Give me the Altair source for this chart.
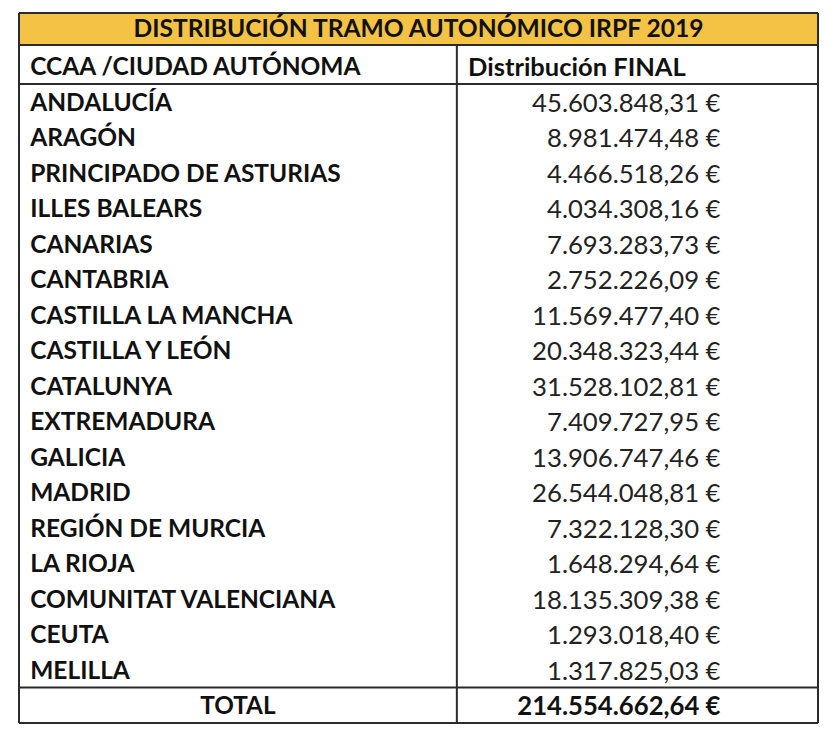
import altair as alt
import pandas as pd

# ---------------- data ----------------
title = "DISTRIBUCIÓN TRAMO AUTONÓMICO IRPF 2019"
col_headers = ["CCAA /CIUDAD AUTÓNOMA", "Distribución FINAL"]
regions = [
    "ANDALUCÍA", "ARAGÓN", "PRINCIPADO DE ASTURIAS", "ILLES BALEARS", "CANARIAS",
    "CANTABRIA", "CASTILLA LA MANCHA", "CASTILLA Y LEÓN", "CATALUNYA", "EXTREMADURA",
    "GALICIA", "MADRID", "REGIÓN DE MURCIA", "LA RIOJA", "COMUNITAT VALENCIANA",
    "CEUTA", "MELILLA",
]
amounts = [
    45603848.31, 8981474.48, 4466518.26, 4034308.16, 7693283.73,
    2752226.09, 11569477.40, 20348323.44, 31528102.81, 7409727.95,
    13906747.46, 26544048.81, 7322128.30, 1648294.64, 18135309.38,
    1293018.40, 1317825.03,
]
total_label = "TOTAL"
total_amount = 214554662.64


def fmt(v):
    s = f"{v:,.2f}".replace(",", "X").replace(".", ",").replace("X", ".")
    return s + " €"


# ---------------- layout ----------------
FONT = "Lato"
N_SLOTS = len(regions) + 3          # title, header, rows, total
W, H = 799, 710
DIV = 0.548                          # column divider (fraction of width)
LEFT_PAD = 0.014
RIGHT_TEXT = 0.878
TITLE_BOTTOM = 0.9
LINE = "#2b2b2b"
YELLOW = "#F4C244"

xs = alt.Scale(domain=[0, 1])
ys = alt.Scale(domain=[0, N_SLOTS], reverse=True)


def X(f="x"):
    return alt.X(f"{f}:Q", scale=xs, axis=None)


def Y(f="y"):
    return alt.Y(f"{f}:Q", scale=ys, axis=None)


def txt(df, size, weight="bold", align="left", color="#111", field="t", x="x", dy=2):
    return alt.Chart(df).mark_text(
        font=FONT, fontSize=size, fontWeight=weight, color=color, align=align,
        baseline="middle", dy=dy
    ).encode(x=X(x), y=Y(), text=f"{field}:N")


band = alt.Chart(pd.DataFrame({"x": [0], "x2": [1], "y": [0], "y2": [TITLE_BOTTOM]})).mark_rect(
    color=YELLOW
).encode(x=X(), x2="x2:Q", y=Y(), y2="y2:Q")

h_edges = [0, TITLE_BOTTOM, 2, N_SLOTS - 1, N_SLOTS]
hrules = alt.Chart(pd.DataFrame({"y": h_edges, "x": [0] * 5, "x2": [1] * 5})).mark_rule(
    color=LINE, strokeWidth=2
).encode(x=X(), x2="x2:Q", y=Y())

vrules = alt.Chart(pd.DataFrame({"x": [0, DIV, 1], "y": [0, TITLE_BOTTOM, 0], "y2": [N_SLOTS] * 3})).mark_rule(
    color=LINE, strokeWidth=2
).encode(x=X(), y=Y(), y2="y2:Q")

title_txt = txt(pd.DataFrame({"t": [title], "x": [0.5], "y": [TITLE_BOTTOM / 2]}), 24.6, align="center", dy=1)
hdr_l = txt(pd.DataFrame({"t": [col_headers[0]], "x": [LEFT_PAD], "y": [1.5]}), 24.5)
hdr_r = txt(pd.DataFrame({"t": [col_headers[1]], "x": [DIV + LEFT_PAD], "y": [1.5]}), 25.5)

rows = pd.DataFrame({
    "name": regions,
    "val": [fmt(v) for v in amounts],
    "y": [i + 2.5 for i in range(len(regions))],
    "xl": [LEFT_PAD] * len(regions),
    "xr": [RIGHT_TEXT] * len(regions),
})

names = txt(rows, 24.5, field="name", x="xl")
vals = txt(rows, 25.7, weight="normal", align="right", color="#222", field="val", x="xr")

tot_l = txt(pd.DataFrame({"t": [total_label], "x": [DIV / 2], "y": [N_SLOTS - 0.5]}), 24.3, align="center")
tot_r = txt(pd.DataFrame({"t": [fmt(total_amount)], "x": [RIGHT_TEXT], "y": [N_SLOTS - 0.5]}), 25.7, align="right")

chart = alt.layer(band, hrules, vrules, title_txt, hdr_l, hdr_r, names, vals, tot_l, tot_r).properties(
    width=W, height=H,
    padding={"left": 11, "top": 5, "right": 8, "bottom": 5},
    autosize=alt.AutoSizeParams(type="none"),
    background="white",
).configure_view(stroke=None)

chart.save("out.html", embed_options={"renderer": "svg", "actions": False})
